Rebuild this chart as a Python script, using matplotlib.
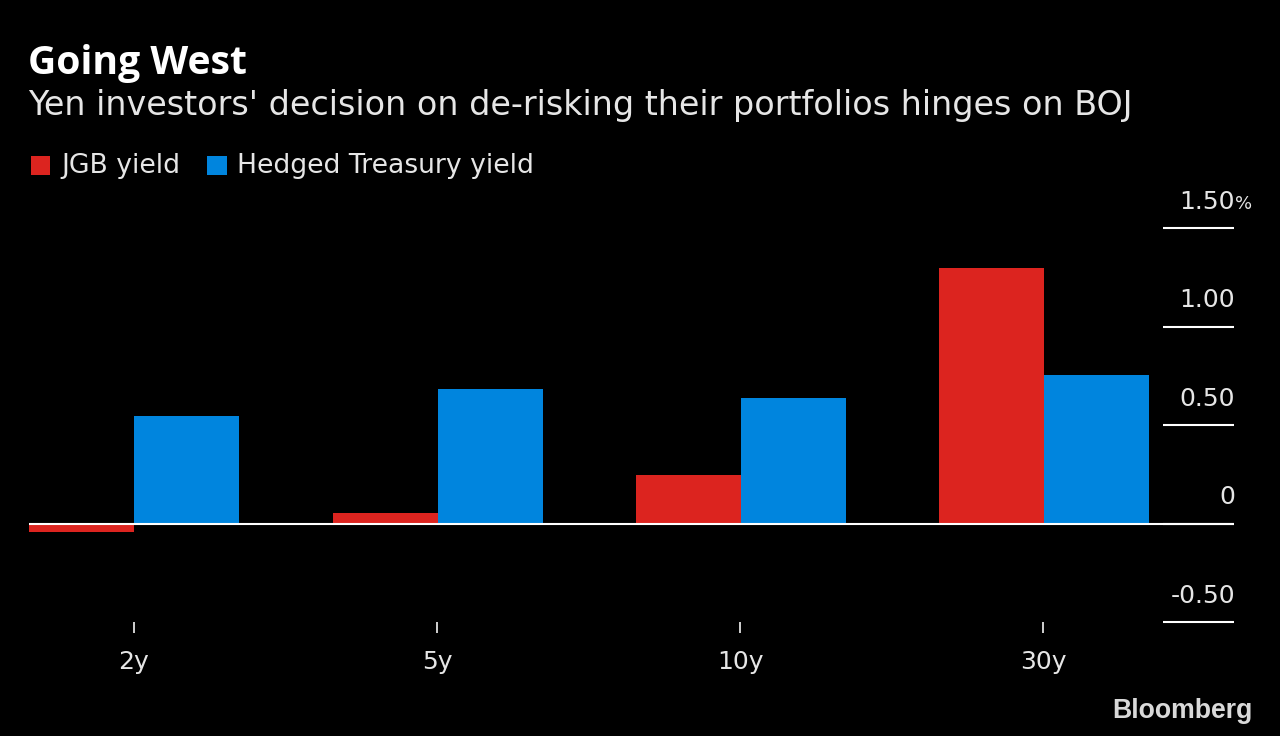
import matplotlib
matplotlib.use('Agg')
import matplotlib.pyplot as plt
import numpy as np

plt.rcParams['font.family'] = ['DejaVu Sans']

categories = ['2y', '5y', '10y', '30y']
jgb_yield = [-0.045, 0.055, 0.245, 1.295]
hedged_yield = [0.545, 0.685, 0.635, 0.755]
y_ticks = [-0.5, 0, 0.5, 1.0, 1.5]
y_labels = ['-0.50', '0', '0.50', '1.00', '1.50']

red = '#dc241f'
blue = '#0085de'
txt = '#e6e6e6'

fig = plt.figure(figsize=(12.8, 7.36), dpi=100, facecolor='black')
ax = fig.add_axes([0, 0, 1, 1])
ax.set_facecolor('black')
ax.set_axis_off()
ax.set_xlim(0, 1280)
ax.set_ylim(736, 0)

# plot axes sits in pixel space of the reference
pa = fig.add_axes([29 / 1280, 1 - 622 / 736, (1234 - 29) / 1280, (622 - 228) / 736])
pa.set_facecolor('none')
pa.set_ylim(-0.5, 1.5)
pa.set_xlim(29, 1234)
for s in pa.spines.values():
    s.set_visible(False)

x = np.array([133.5, 437, 740, 1043])
bar_x = np.array([134, 438, 741, 1044])
w = 104.6
pa.bar(bar_x - w / 2, jgb_yield, w, color=red)
pa.bar(bar_x + w / 2, hedged_yield, w, color=blue)
pa.axhline(0, color='white', lw=1.5, zorder=3)

pa.set_xticks(x)
pa.set_xticklabels(categories, fontsize=18, color=txt)
pa.tick_params(axis='x', length=8, width=1.4, color='#d0d0d0', pad=12.5, direction='out')
pa.xaxis.set_ticks_position('bottom')

pa.set_yticks([])
for v, lab in zip(y_ticks, y_labels):
    pa.plot([1163, 1234], [v, v], color='white', lw=1.5, zorder=3, solid_capstyle='butt', clip_on=False)
    pa.annotate(lab, (1235, v), xytext=(0, 14), textcoords='offset points', ha='right',
                va='baseline', fontsize=18, color=txt, annotation_clip=False)
pa.annotate('%', (1235, 1.5), xytext=(0, 14), textcoords='offset points', ha='left',
            va='baseline', fontsize=13, color=txt, annotation_clip=False)

ax.text(28, 74, 'Going West', fontsize=28.2, fontweight='bold', family='Open Sans', color='white', va='baseline')
ax.text(28, 115, "Yen investors' decision on de-risking their portfolios hinges on BOJ", fontsize=24, color=txt, va='baseline')

ax.add_patch(plt.Rectangle((31, 156), 19, 19, color=red, lw=0))
ax.text(61, 173, 'JGB yield', fontsize=19.2, color=txt, va='baseline')
ax.add_patch(plt.Rectangle((207, 156), 20, 19, color=blue, lw=0))
ax.text(237, 173, 'Hedged Treasury yield', fontsize=19.2, color=txt, va='baseline')

ax.text(1253, 718, 'Bloomberg', fontsize=19.2, fontweight='bold', family='Liberation Sans', color='#d9d9d9', va='baseline', ha='right')

fig.savefig('out.png', dpi=100, facecolor='black')
